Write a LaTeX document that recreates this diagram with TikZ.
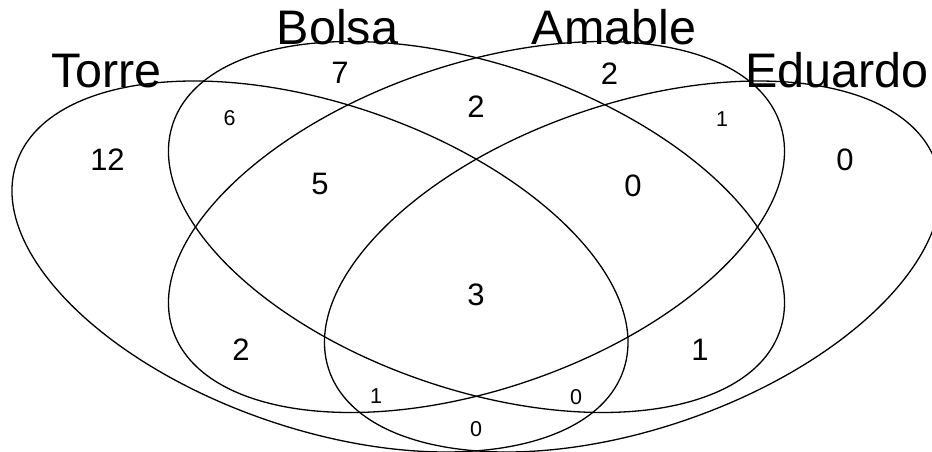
\documentclass[tikz,border=0pt]{standalone}
\usepackage{fontspec}
\setmainfont{Liberation Sans}
\tikzset{
  setring/.style={draw=black, line width=1.3pt},
  setname/.style={anchor=base, inner sep=0pt, font=\fontsize{48.5}{56}\selectfont},
  bignum/.style={inner sep=0pt, font=\fontsize{31}{36}\selectfont},
  smallnum/.style={inner sep=0pt, font=\fontsize{21.5}{26}\selectfont},
}
\begin{document}
\begin{tikzpicture}[x=1pt, y=1pt]
  \useasboundingbox (0,0) rectangle (932,452);
  \fill[white] (0,0) rectangle (932,452);
  \clip (0,0) rectangle (932,452);

  % centres of the four sets
  \coordinate (torreC)  at (320,185.5);
  \coordinate (bolsaC)  at (476.5,225);
  \coordinate (amableC) at (476.5,225);
  \coordinate (eduC)    at (632.5,185.5);

  % the four congruent ellipses
  \draw[setring, rotate around={-18.87:(torreC)}]  (torreC)  ellipse [x radius=320.7pt, y radius=162.5pt];
  \draw[setring, rotate around={-18.87:(bolsaC)}]  (bolsaC)  ellipse [x radius=320.7pt, y radius=162.5pt];
  \draw[setring, rotate around={18.87:(amableC)}]  (amableC) ellipse [x radius=320.7pt, y radius=162.5pt];
  \draw[setring, rotate around={18.87:(eduC)}]     (eduC)    ellipse [x radius=320.7pt, y radius=162.5pt];

  % set names
  \node[setname] (torre)   at (106.5,364) {Torre};
  \node[setname] (bolsa)   at (337.5,407) {Bolsa};
  \node[setname] (amable)  at (614,407)   {Amable};
  \node[setname, anchor=base east] (eduardo) at (929,364) {Eduardo};

  % region counts
  \node[bignum]   (rT)    at (107.5,292) {12};
  \node[bignum]   (rB)    at (340,379.5) {7};
  \node[bignum]   (rA)    at (609.5,378) {2};
  \node[bignum]   (rE)    at (845,292)   {0};
  \node[smallnum] (rTB)   at (229.5,333.5) {6};
  \node[smallnum] (rAE)   at (722,332.5) {1};
  \node[bignum]   (rBA)   at (476,345.5) {2};
  \node[bignum]   (rTBA)  at (320,268)   {5};
  \node[bignum]   (rBAE)  at (633,266)   {0};
  \node[bignum]   (rAll)  at (476,157.5) {3};
  \node[bignum]   (rTA)   at (241,102)   {2};
  \node[bignum]   (rBE)   at (700,102)   {1};
  \node[smallnum] (rTAE)  at (376,55.5)  {1};
  \node[smallnum] (rTBE)  at (576,55)    {0};
  \node[smallnum] (rTE)   at (476,22.5)  {0};
\end{tikzpicture}
\end{document}
